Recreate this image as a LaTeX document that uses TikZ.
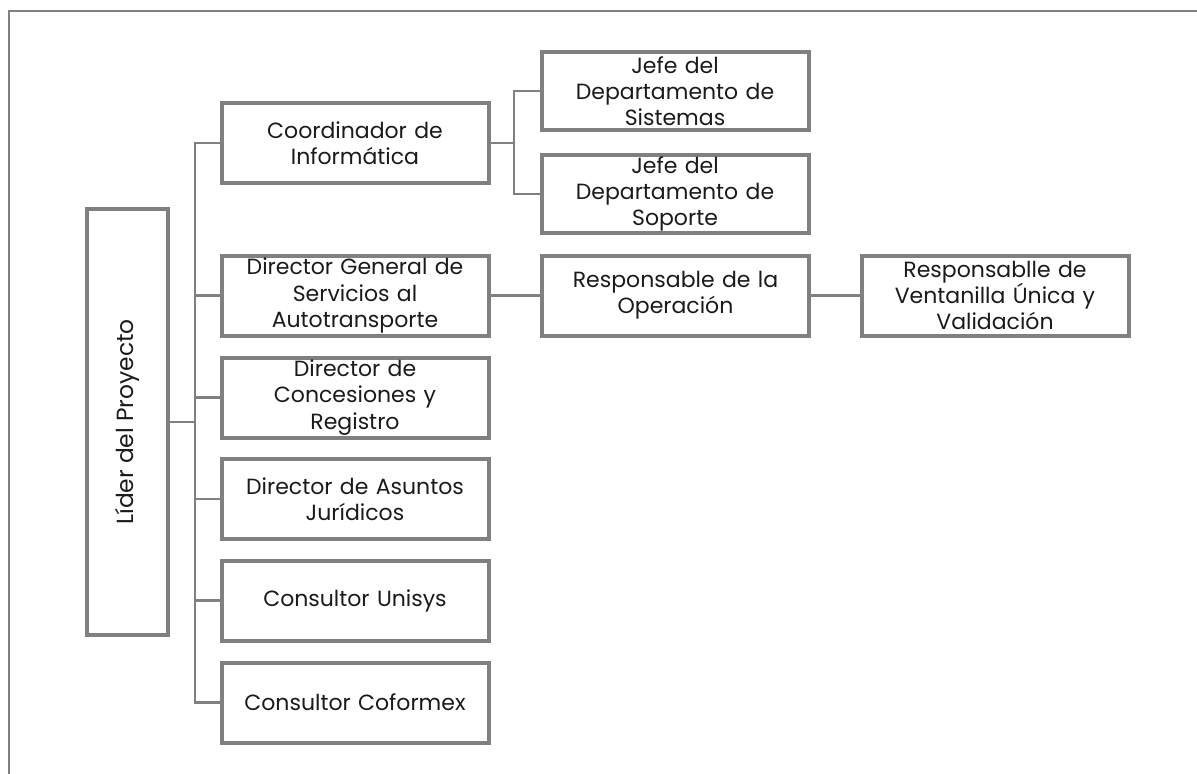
\documentclass[tikz,border=0pt]{standalone}
\usepackage{fontspec}
\setmainfont{Poppins}
\begin{document}
\begin{tikzpicture}[x=0.75pt,y=-0.75pt]
\definecolor{bord}{HTML}{808080}
\definecolor{txt}{HTML}{1A1A1A}
\tikzset{
  boxbase/.style={draw=bord, line width=3pt, rectangle, inner sep=0pt,
    align=center, font=\fontsize{16.5}{19.6}\selectfont, text=txt},
  box/.style={boxbase, minimum width=200.25pt, minimum height=60pt, text width=198pt},
  conn/.style={draw=bord, line width=1.6pt},
  frame/.style={draw=bord, line width=1.8pt}
}
\useasboundingbox (0,0) rectangle (1197,774);
\draw[frame] (9,776) -- (9,11) -- (1199,11);

\node[boxbase, minimum width=60.75pt, minimum height=319.5pt, font=\fontsize{17.5}{20}\selectfont] (lider) at (127.5,422)
  {\rotatebox{90}{Líder del Proyecto}};

\node[box] (coord) at (355,143) {Coordinador de\\Informática};
\node[box, minimum height=58.5pt] (sist) at (675,91) {Jefe del\\Departamento de\\Sistemas};
\node[box, minimum height=58.5pt] (sop) at (675,194) {Jefe del\\Departamento de\\Soporte};
\node[box] (dgen) at (355,295.5) {Director General de\\Servicios al\\Autotransporte};
\node[box] (oper) at (675.5,295.5) {Responsable de la\\Operación};
\node[box] (vent) at (995,295.5) {Responsablle de\\Ventanilla Única y\\Validación};
\node[box] (conc) at (355,397.5) {Director de\\Concesiones y\\Registro};
\node[box] (asun) at (355,499) {Director de Asuntos\\Jurídicos};
\node[box] (unis) at (355,600.5) {Consultor Unisys};
\node[box] (cofo) at (355,702.5) {Consultor Coformex};

\coordinate (tr) at (195,0);
\coordinate (br) at (514,0);

\draw[conn] (lider.east) -- (tr |- lider.east);
\draw[conn] (coord.west) -- (tr |- coord.west) -- (tr |- cofo.west) -- (cofo.west);
\draw[conn] (tr |- dgen.west) -- (dgen.west);
\draw[conn] (tr |- conc.west) -- (conc.west);
\draw[conn] (tr |- asun.west) -- (asun.west);
\draw[conn] (tr |- unis.west) -- (unis.west);

\draw[conn] (coord.east) -- (br |- coord.east);
\draw[conn] (sist.west) -- (br |- sist.west) -- (br |- sop.west) -- (sop.west);
\draw[conn] (dgen.east) -- (oper.west);
\draw[conn] (oper.east) -- (vent.west);
\end{tikzpicture}
\end{document}
